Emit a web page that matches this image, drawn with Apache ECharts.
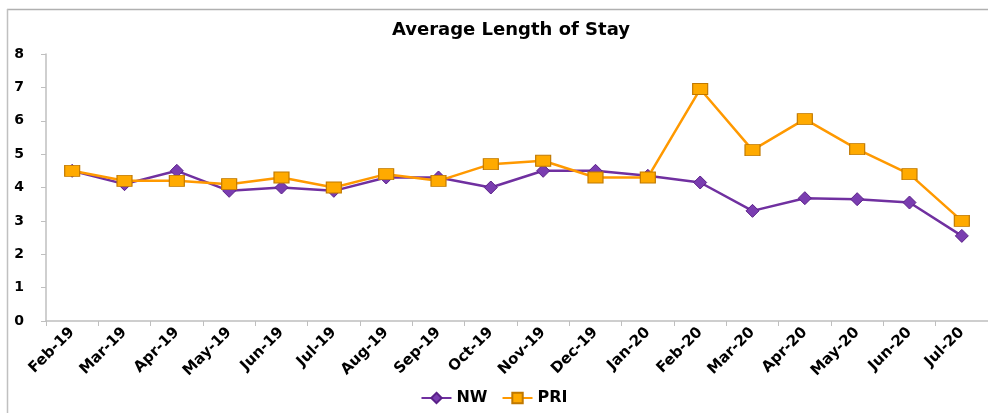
<!DOCTYPE html>
<html><head><meta charset="utf-8">
<script src="https://cdn.jsdelivr.net/npm/echarts@6/dist/echarts.min.js"></script>
<style>html,body{margin:0;padding:0;background:#fff}#c{width:988px;height:413px}</style>
</head><body><div id="c"></div>
<script>
const categories = ['Feb-19','Mar-19','Apr-19','May-19','Jun-19','Jul-19','Aug-19','Sep-19','Oct-19','Nov-19','Dec-19','Jan-20','Feb-20','Mar-20','Apr-20','May-20','Jun-20','Jul-20'];
const nwValues = [4.5,4.1,4.5,3.9,4.0,3.9,4.3,4.3,4.0,4.5,4.5,4.35,4.15,3.3,3.68,3.65,3.55,2.55];
const priValues = [4.5,4.2,4.2,4.1,4.3,4.0,4.4,4.2,4.7,4.8,4.3,4.3,6.95,5.12,6.05,5.15,4.4,3.0];
const yTicks = [0,1,2,3,4,5,6,7,8];

const font = '"DejaVu Sans", Verdana, sans-serif';
const chart = echarts.init(document.getElementById('c'), null, {renderer:'canvas'});
chart.setOption({
  animation:false,
  backgroundColor:'#fff',
  title:{text:'Average Length of Stay',left:506,top:16,textAlign:'center',
    textStyle:{fontFamily:font,fontWeight:'bold',fontSize:18,color:'#000'}},
  graphic:[
    {type:'line',shape:{x1:7,y1:9.5,x2:988,y2:9.5},style:{stroke:'#b0b0b0',lineWidth:1.5}},
    {type:'line',shape:{x1:7.5,y1:9,x2:7.5,y2:413},style:{stroke:'#c0c0c0',lineWidth:1.5}}
  ],
  grid:{left:46,top:54,right:-5,bottom:92,containLabel:false},
  legend:{bottom:2,left:'center',itemGap:14,itemWidth:30,itemHeight:13,
    textStyle:{fontFamily:font,fontWeight:'bold',fontSize:16,color:'#000'},
    data:['NW','PRI']},
  xAxis:{type:'category',data:categories,boundaryGap:true,
    axisLine:{lineStyle:{color:'#bfbfbf',width:1.5}},
    axisTick:{show:true,length:5,lineStyle:{color:'#bfbfbf'}},
    axisLabel:{rotate:45,margin:9,fontFamily:font,fontWeight:'bold',fontSize:15,color:'#000',interval:0},
    splitLine:{show:false}},
  yAxis:{type:'value',min:0,max:8,interval:1,
    axisLine:{show:true,lineStyle:{color:'#bfbfbf',width:1.5}},
    axisTick:{show:true,length:5,lineStyle:{color:'#bfbfbf'}},
    axisLabel:{margin:22,fontFamily:font,fontWeight:'bold',fontSize:14,color:'#000',
      formatter:v=>yTicks.includes(v)?String(v):''},
    splitLine:{show:false}},
  series:[
    {name:'NW',type:'line',data:nwValues,symbol:'diamond',symbolSize:[13,13],
      lineStyle:{color:'#7030A0',width:2.5},
      itemStyle:{color:'#7a3db0',borderColor:'#5a2088',borderWidth:1},z:2},
    {name:'PRI',type:'line',data:priValues,symbol:'rect',symbolSize:[15,11],
      lineStyle:{color:'#FF9900',width:2.5},
      itemStyle:{color:'#FFAA00',borderColor:'#c07800',borderWidth:1},z:3}
  ]
});
</script></body></html>
